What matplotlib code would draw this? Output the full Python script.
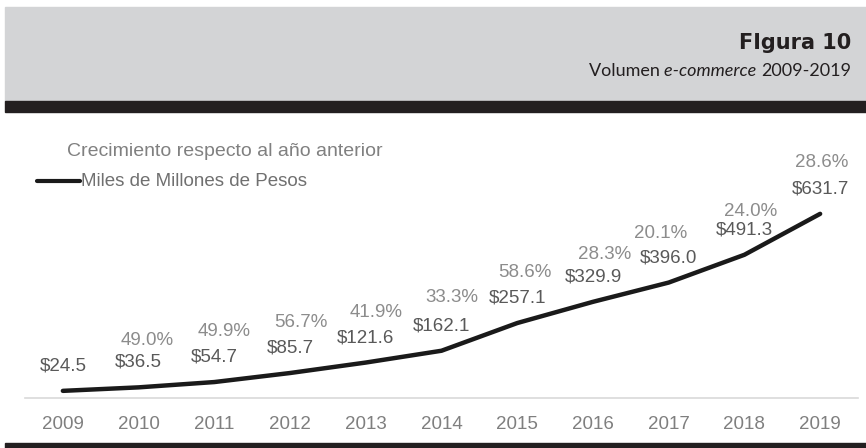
import matplotlib
matplotlib.use('Agg')
import matplotlib.pyplot as plt
from matplotlib.patches import Rectangle
from matplotlib.text import Annotation

# data
years = ['2009', '2010', '2011', '2012', '2013', '2014',
         '2015', '2016', '2017', '2018', '2019']
volumen = [24.5, 36.5, 54.7, 85.7, 121.6, 162.1, 257.1, 329.9, 396.0, 491.3, 631.7]
crecimiento = [None, 49.0, 49.9, 56.7, 41.9, 33.3, 58.6, 28.3, 20.1, 24.0, 28.6]

# label offsets in pixels (dx, dy) for the growth labels
pct_offsets = [(0, 0), (9, 47), (10, 51), (11, 51), (10, 50), (10, 53),
               (8, 51), (12, 47), (-8, 49), (6, 43), (2, 51)]

plt.rcParams['font.family'] = ['Liberation Sans', 'DejaVu Sans']

fig = plt.figure(figsize=(8.66, 4.48), dpi=100)
W, H = 866, 448

# header bands
fig.patches.append(Rectangle((5 / W, 347 / H), 861 / W, 94 / H,
                             transform=fig.transFigure, color='#d3d4d6', zorder=0))
fig.patches.append(Rectangle((5 / W, 336 / H), 861 / W, 11 / H,
                             transform=fig.transFigure, color='#231f20', zorder=0))
fig.patches.append(Rectangle((5 / W, 0), 861 / W, 5 / H,
                             transform=fig.transFigure, color='#231f20', zorder=0))

fig.text(851 / W, 1 - 43 / H, 'FIgura 10', ha='right', va='center',
         fontsize=15, fontweight='bold', family='DejaVu Sans', color='#231f20')
# subtitle with italic part, chained right to left
t1 = fig.text(851 / W, 1 - 71 / H, '2009-2019', ha='right', va='center',
              fontsize=13, family='Lato', color='#231f20')
t2 = Annotation('e-commerce ', xy=(0, 0), xycoords=t1, ha='right', va='bottom',
                fontsize=13, family='Lato', style='italic', color='#231f20')
fig.add_artist(t2)
t3 = Annotation('Volumen ', xy=(0, 0), xycoords=t2, ha='right', va='bottom',
                fontsize=13, family='Lato', color='#231f20')
fig.add_artist(t3)

ax = fig.add_axes([25 / W, 50 / H, 833 / W, 268.2 / H])
x = list(range(len(years)))
ax.plot(x, volumen, color='#1a1a1a', lw=3.2, solid_joinstyle='round',
        solid_capstyle='round', zorder=3)

for i, v in enumerate(volumen):
    ax.annotate('$%.1f' % v, (x[i], v), xytext=(0, 25), textcoords='offset pixels',
                ha='center', va='center', fontsize=13.5, color='#595959')
    if crecimiento[i] is not None:
        dx, dy = pct_offsets[i]
        ax.annotate('%.1f%%' % crecimiento[i], (x[i], v), xytext=(dx, dy),
                    textcoords='offset pixels', ha='center', va='center',
                    fontsize=13.5, color='#8c8c8c')

ax.set_xlim(-0.5, len(years) - 0.5)
ax.set_ylim(0, 920)
ax.set_xticks(x)
ax.set_xticklabels(years)
ax.set_yticks([])
ax.tick_params(axis='x', length=0, pad=13, labelsize=13.5, labelcolor='#7f7f7f')
for s in ['top', 'left', 'right']:
    ax.spines[s].set_visible(False)
ax.spines['bottom'].set_color('#d9d9d9')
ax.spines['bottom'].set_linewidth(1.2)
ax.patch.set_visible(False)

# legend-like titles
fig.text(67 / W, 1 - 152 / H, 'Crecimiento respecto al año anterior',
         ha='left', va='center', fontsize=14, color='#808080')
fig.lines.append(plt.Line2D([37 / W, 80 / W], [1 - 181 / H, 1 - 181 / H],
                            transform=fig.transFigure, color='#1a1a1a', lw=3,
                            solid_capstyle='round'))
fig.text(81 / W, 1 - 181 / H, 'Miles de Millones de Pesos',
         ha='left', va='center', fontsize=13.5, color='#707070')

fig.savefig('out.png', dpi=100)
